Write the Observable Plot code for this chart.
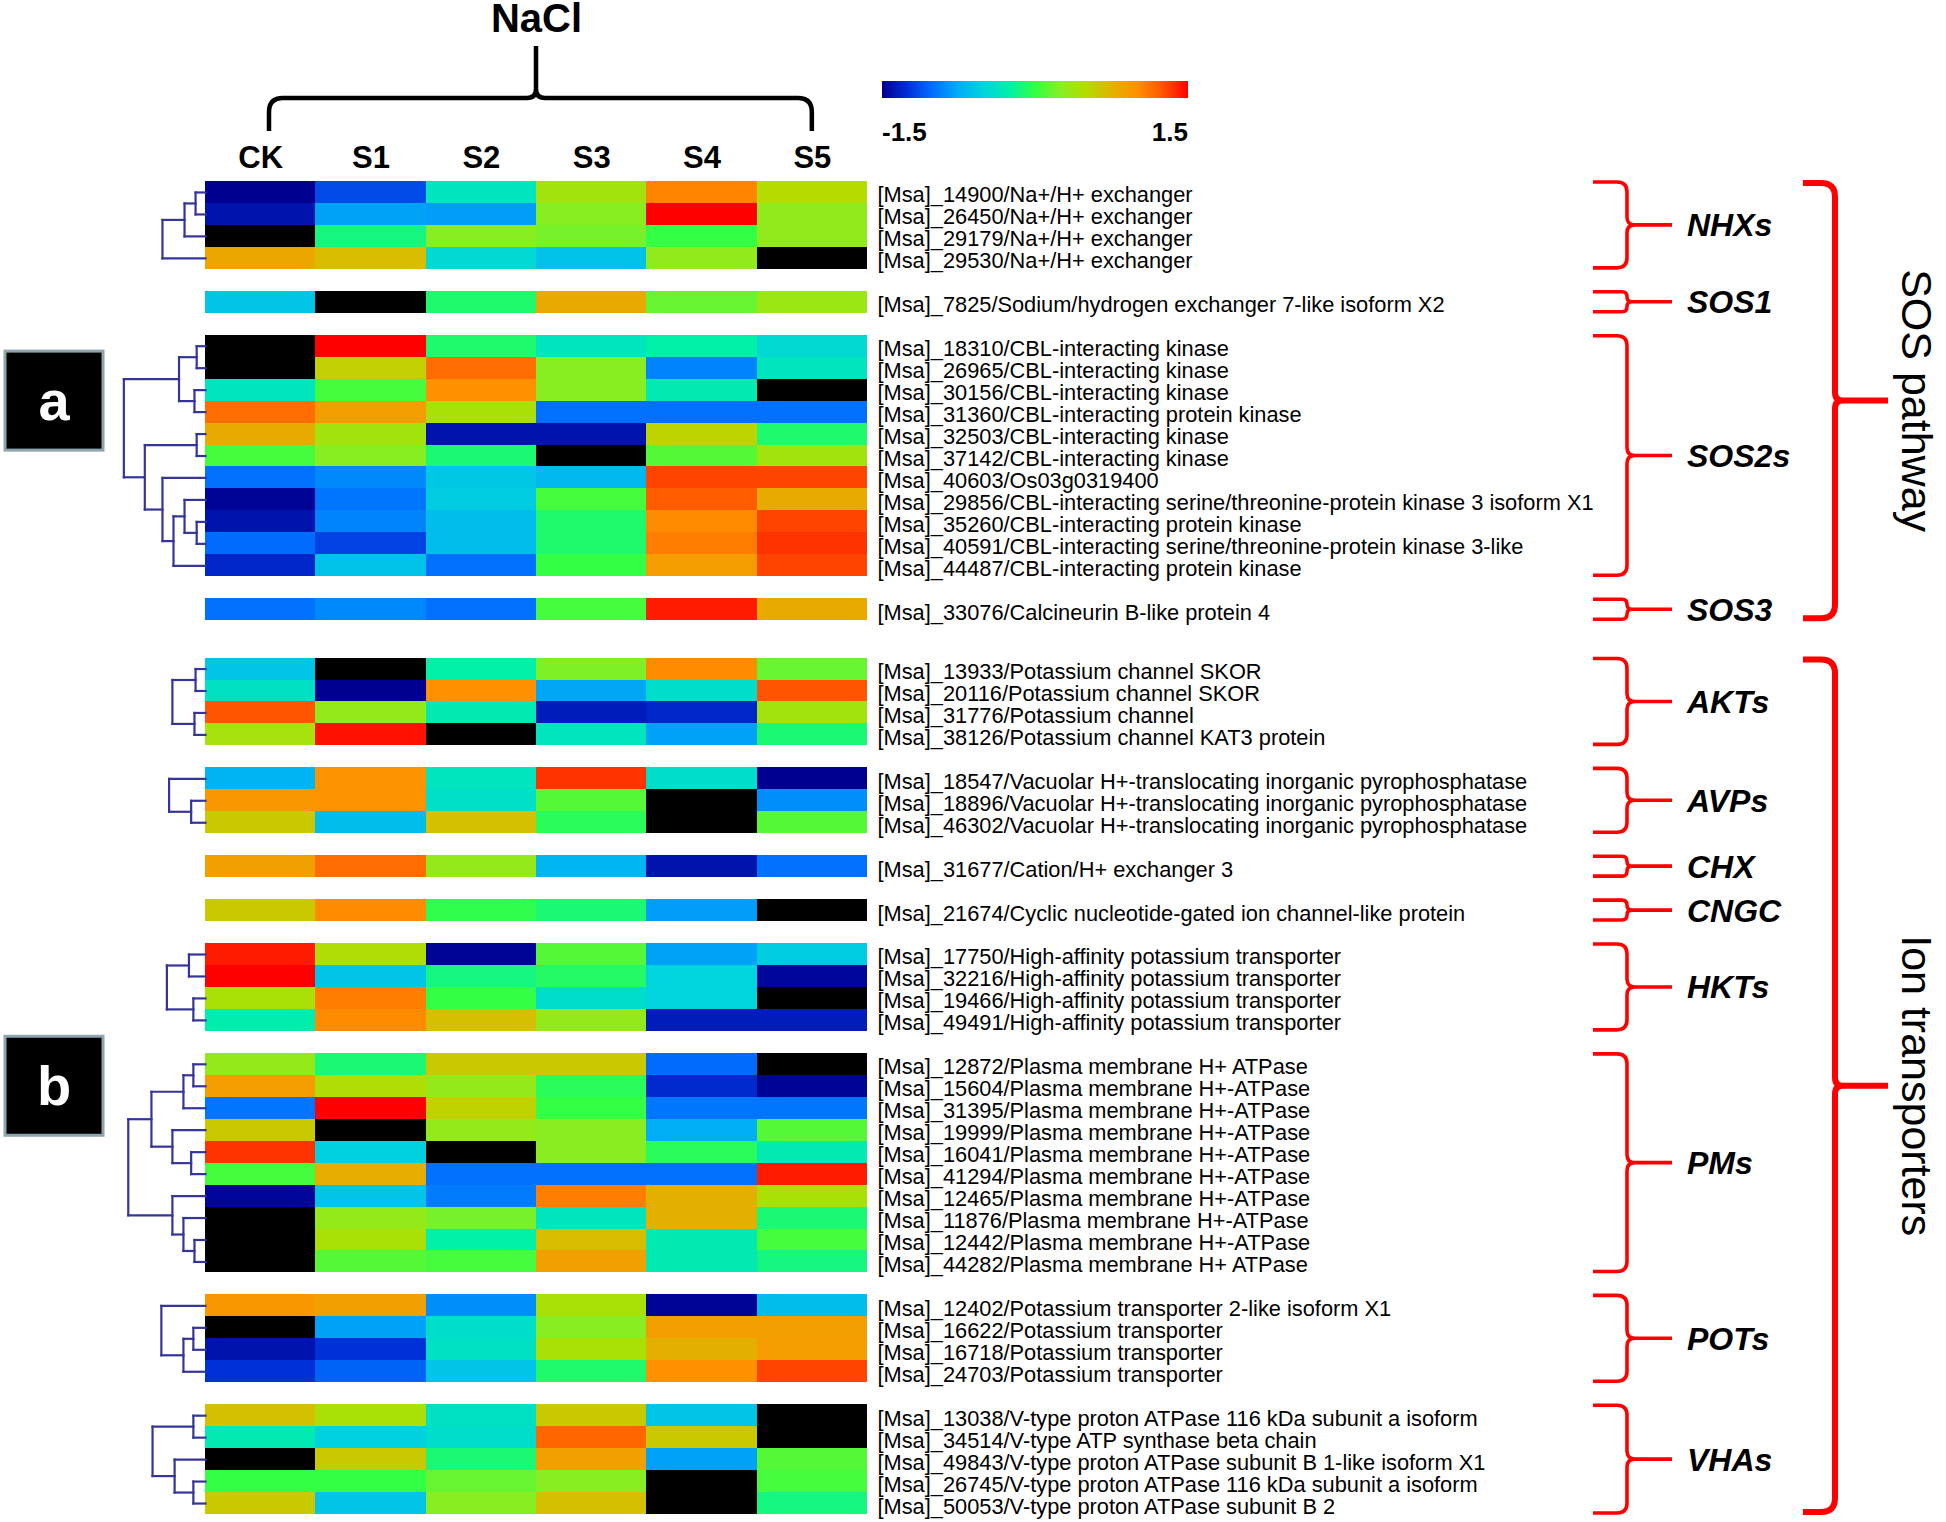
<!DOCTYPE html>
<html>
<head>
<meta charset="utf-8">
<script src="https://cdn.jsdelivr.net/npm/d3@7"></script>
<script src="https://cdn.jsdelivr.net/npm/@observablehq/plot@0.6"></script>
<style>
  html, body { margin: 0; padding: 0; background: #ffffff; }
  #chart { position: relative; width: 1946px; height: 1522px; }
</style>
</head>
<body>
<div id="chart"></div>
<script>
// ---------------- DATA ----------------
const N = null; // missing value (drawn black)
const columns = ["CK", "S1", "S2", "S3", "S4", "S5"];
const treatmentLabel = "NaCl";
const legendTicks = ["-1.5", "1.5"];
const colorDomain = [-1.5, 1.5];

const groupNames = ["NHXs", "SOS1", "SOS2s", "SOS3", "AKTs", "AVPs", "CHX", "CNGC", "HKTs", "PMs", "POTs", "VHAs"];
const sectionNames = ["SOS pathway", "Ion transporters"];
const sectionOfGroup = [0, 0, 0, 0, 1, 1, 1, 1, 1, 1, 1, 1];
const panelLetters = ["a", "b"];

const NHX_labels = [
  "[Msa]_14900/Na+/H+ exchanger",
  "[Msa]_26450/Na+/H+ exchanger",
  "[Msa]_29179/Na+/H+ exchanger",
  "[Msa]_29530/Na+/H+ exchanger"];
const NHX_values = [
  [-1.5, -1.15, -0.35, 0.4, 1.05, 0.5],
  [-1.4, -0.8, -0.82, 0.25, 1.5, 0.3],
  [N, -0.15, 0.25, 0.2, 0.0, 0.3],
  [0.85, 0.7, -0.45, -0.62, 0.3, N]];
const NHX_tree = [[[0, 1, 0.09], 2, 0.19], 3, 0.39];

const SOS1_labels = ["[Msa]_7825/Sodium/hydrogen exchanger 7-like isoform X2"];
const SOS1_values = [[-0.6, N, -0.1, 0.82, 0.15, 0.35]];

const SOS2_labels = [
  "[Msa]_18310/CBL-interacting kinase",
  "[Msa]_26965/CBL-interacting kinase",
  "[Msa]_30156/CBL-interacting kinase",
  "[Msa]_31360/CBL-interacting protein kinase",
  "[Msa]_32503/CBL-interacting kinase",
  "[Msa]_37142/CBL-interacting kinase",
  "[Msa]_40603/Os03g0319400",
  "[Msa]_29856/CBL-interacting serine/threonine-protein kinase 3 isoform X1",
  "[Msa]_35260/CBL-interacting protein kinase",
  "[Msa]_40591/CBL-interacting serine/threonine-protein kinase 3-like",
  "[Msa]_44487/CBL-interacting protein kinase"];
const SOS2_values = [
  [N, 1.5, -0.1, -0.35, -0.25, -0.45],
  [N, 0.58, 1.15, 0.25, -0.92, -0.35],
  [-0.35, 0.05, 1.0, 0.25, -0.3, N],
  [1.15, 0.9, 0.45, -1.0, -1.0, -1.0],
  [0.82, 0.4, -1.4, -1.4, 0.55, -0.1],
  [0.05, 0.25, -0.12, N, 0.1, 0.4],
  [-1.0, -0.9, -0.58, -0.68, 1.3, 1.3],
  [-1.48, -0.98, -0.55, 0.05, 1.22, 0.82],
  [-1.4, -0.92, -0.65, -0.1, 1.02, 1.3],
  [-1.02, -1.18, -0.65, -0.1, 1.08, 1.35],
  [-1.3, -0.62, -1.0, 0.0, 0.92, 1.3]];
const SOS2_tree = [
  [[0, 1, 0.08], [2, 3, 0.10], 0.24],
  [[4, 5, 0.08], [6, [[7, [8, 9, 0.08], 0.19], 10, 0.29], 0.39], 0.55],
  0.74];

const SOS3_labels = ["[Msa]_33076/Calcineurin B-like protein 4"];
const SOS3_values = [[-1.0, -0.9, -1.0, 0.05, 1.42, 0.82]];

const AKT_labels = [
  "[Msa]_13933/Potassium channel SKOR",
  "[Msa]_20116/Potassium channel SKOR",
  "[Msa]_31776/Potassium channel",
  "[Msa]_38126/Potassium channel KAT3 protein"];
const AKT_values = [
  [-0.6, N, -0.25, 0.22, 1.02, 0.15],
  [-0.38, -1.5, 1.0, -0.78, -0.42, 1.25],
  [1.25, 0.32, -0.3, -1.35, -1.3, 0.4],
  [0.42, 1.45, N, -0.35, -0.8, -0.12]];
const AKT_tree = [[0, 1, 0.09], [2, 3, 0.10], 0.30];

const AVP_labels = [
  "[Msa]_18547/Vacuolar H+-translocating inorganic pyrophosphatase",
  "[Msa]_18896/Vacuolar H+-translocating inorganic pyrophosphatase",
  "[Msa]_46302/Vacuolar H+-translocating inorganic pyrophosphatase"];
const AVP_values = [
  [-0.72, 0.98, -0.35, 1.35, -0.42, -1.5],
  [0.95, 0.98, -0.4, 0.1, N, -0.88],
  [0.62, -0.65, 0.68, -0.05, N, 0.1]];
const AVP_tree = [0, [1, 2, 0.13], 0.33];

const CHX_labels = ["[Msa]_31677/Cation/H+ exchanger 3"];
const CHX_values = [[0.88, 1.15, 0.32, -0.7, -1.4, -1.0]];

const CNGC_labels = ["[Msa]_21674/Cyclic nucleotide-gated ion channel-like protein"];
const CNGC_values = [[0.62, 1.02, -0.02, -0.12, -0.82, N]];

const HKT_labels = [
  "[Msa]_17750/High-affinity potassium transporter",
  "[Msa]_32216/High-affinity potassium transporter",
  "[Msa]_19466/High-affinity potassium transporter",
  "[Msa]_49491/High-affinity potassium transporter"];
const HKT_values = [
  [1.42, 0.48, -1.48, 0.1, -0.8, -0.55],
  [1.5, -0.6, -0.15, -0.08, -0.5, -1.47],
  [0.45, 1.08, 0.0, -0.42, -0.5, N],
  [-0.28, 1.02, 0.68, 0.32, -1.35, -1.35]];
const HKT_tree = [[0, 1, 0.15], [2, 3, 0.11], 0.35];

const PM_labels = [
  "[Msa]_12872/Plasma membrane H+ ATPase",
  "[Msa]_15604/Plasma membrane H+-ATPase",
  "[Msa]_31395/Plasma membrane H+-ATPase",
  "[Msa]_19999/Plasma membrane H+-ATPase",
  "[Msa]_16041/Plasma membrane H+-ATPase",
  "[Msa]_41294/Plasma membrane H+-ATPase",
  "[Msa]_12465/Plasma membrane H+-ATPase",
  "[Msa]_11876/Plasma membrane H+-ATPase",
  "[Msa]_12442/Plasma membrane H+-ATPase",
  "[Msa]_44282/Plasma membrane H+ ATPase"];
const PM_values = [
  [0.32, -0.12, 0.62, 0.62, -1.02, N],
  [0.92, 0.48, 0.32, -0.05, -1.28, -1.48],
  [-0.98, 1.5, 0.56, 0.0, -0.98, -0.98],
  [0.62, N, 0.32, 0.26, -0.75, 0.1],
  [1.35, -0.52, N, 0.26, -0.05, -0.3],
  [0.05, 0.8, -1.0, -1.0, -1.0, 1.42],
  [-1.47, -0.6, -0.95, 1.08, 0.78, 0.45],
  [N, 0.32, 0.2, -0.35, 0.78, -0.12],
  [N, 0.45, -0.25, 0.7, -0.3, 0.05],
  [N, 0.1, 0.05, 0.88, -0.3, -0.15]];
const PM_tree = [
  [[[0, 1, 0.11], 2, 0.20], [3, [4, 5, 0.13], 0.30], 0.49],
  [6, [7, [8, 9, 0.10], 0.20], 0.30],
  0.70];

const POT_labels = [
  "[Msa]_12402/Potassium transporter 2-like isoform X1",
  "[Msa]_16622/Potassium transporter",
  "[Msa]_16718/Potassium transporter",
  "[Msa]_24703/Potassium transporter"];
const POT_values = [
  [0.95, 0.88, -0.88, 0.45, -1.48, -0.65],
  [N, -0.8, -0.42, 0.25, 0.9, 0.9],
  [-1.4, -1.25, -0.38, 0.45, 0.78, 0.92],
  [-1.25, -1.05, -0.6, -0.1, 1.0, 1.3]];
const POT_tree = [0, [[1, 2, 0.11], 3, 0.20], 0.40];

const VHA_labels = [
  "[Msa]_13038/V-type proton ATPase 116 kDa subunit a isoform",
  "[Msa]_34514/V-type ATP synthase beta chain",
  "[Msa]_49843/V-type proton ATPase subunit B 1-like isoform X1",
  "[Msa]_26745/V-type proton ATPase 116 kDa subunit a isoform",
  "[Msa]_50053/V-type proton ATPase subunit B 2"];
const VHA_values = [
  [0.68, 0.45, -0.38, 0.62, -0.6, N],
  [-0.3, -0.52, -0.42, 1.18, 0.62, N],
  [N, 0.62, -0.12, 0.88, -0.8, 0.1],
  [0.0, 0.0, 0.15, 0.25, N, 0.05],
  [0.62, -0.6, 0.25, 0.68, N, -0.15]];
const VHA_tree = [[0, 1, 0.11], [2, [3, 4, 0.11], 0.28], 0.48];

const groupLabelLists = [NHX_labels, SOS1_labels, SOS2_labels, SOS3_labels, AKT_labels, AVP_labels, CHX_labels, CNGC_labels, HKT_labels, PM_labels, POT_labels, VHA_labels];
const groupValueLists = [NHX_values, SOS1_values, SOS2_values, SOS3_values, AKT_values, AVP_values, CHX_values, CNGC_values, HKT_values, PM_values, POT_values, VHA_values];
const groupTrees = [NHX_tree, null, SOS2_tree, null, AKT_tree, AVP_tree, null, null, HKT_tree, PM_tree, POT_tree, VHA_tree];

// ---------------- STYLE / LAYOUT ----------------
const W = 1946, H = 1522;
const FONT = "'Liberation Sans', Arial, Helvetica, sans-serif";
const jetStops = [-1.5, -1.25, -1, -0.75, -0.5, -0.25, 0, 0.25, 0.5, 0.75, 1, 1.25, 1.5];
const jetColors = ["#000090", "#0030D8", "#0070FF", "#00AEF6", "#00D4DC", "#00F0A8", "#33FF44", "#88EE22", "#B4DC00", "#E0B400", "#FF9000", "#FF5500", "#FF0000"];
const colorOpts = {type: "linear", domain: jetStops, range: jetColors, interpolate: "rgb", clamp: true};
const GAP_IN = 1, GAP_SECTION = 1.7;
const dendroColor = "#34349a";
const braceRed = "#ff0000";

// ---------------- BUILD TABLES ----------------
const rows = [], cells = [], segs = [], groups = [];
function walk(node, base) {
  if (typeof node === "number") return {y: base + node + 0.5, h: 0};
  const [a, b, h] = node;
  const A = walk(a, base), B = walk(b, base);
  segs.push({x1: -A.h, y1: A.y, x2: -h, y2: A.y});
  segs.push({x1: -B.h, y1: B.y, x2: -h, y2: B.y});
  segs.push({x1: -h, y1: A.y, x2: -h, y2: B.y});
  return {y: (A.y + B.y) / 2, h};
}
let pos = 0;
groupNames.forEach((name, g) => {
  if (g > 0) pos += sectionOfGroup[g] !== sectionOfGroup[g - 1] ? GAP_SECTION : GAP_IN;
  const start = pos;
  const labs = groupLabelLists[g], vals = groupValueLists[g];
  labs.forEach((lab, i) => {
    rows.push({label: lab, pos: start + i});
    vals[i].forEach((v, j) => cells.push({col: j, pos: start + i, value: v, column: columns[j]}));
  });
  if (groupTrees[g]) walk(groupTrees[g], start);
  groups.push({name, section: sectionOfGroup[g], y1: start, y2: start + labs.length});
  pos += labs.length;
});
const total = pos;

// ---------------- PLOT ----------------
const chart = Plot.plot({
  width: W, height: H,
  marginTop: 181, marginBottom: 8, marginLeft: 205, marginRight: W - 867,
  x: {domain: [0, columns.length], axis: null},
  y: {domain: [0, total], reverse: true, axis: null},
  color: colorOpts,
  style: {fontFamily: FONT, background: "#ffffff", color: "#000", overflow: "visible"},
  marks: [
    Plot.rect(cells.filter(d => d.value !== null), {
      x1: d => d.col, x2: d => d.col + 1, y1: d => d.pos, y2: d => d.pos + 1,
      fill: d => d.value, shapeRendering: "crispEdges"
    }),
    Plot.rect(cells.filter(d => d.value === null), {
      x1: d => d.col, x2: d => d.col + 1, y1: d => d.pos, y2: d => d.pos + 1,
      fill: "#000000", shapeRendering: "crispEdges"
    }),
    Plot.link(segs, {x1: "x1", y1: "y1", x2: "x2", y2: "y2", stroke: dendroColor, strokeWidth: 2.2, strokeLinecap: "square"}),
    Plot.text(rows, {x: columns.length, y: d => d.pos + 0.5, text: "label", textAnchor: "start", dx: 10, dy: 3, fontSize: 21.8, fill: "#000"}),
    Plot.text(columns, {x: (d, i) => i + 0.5, y: 0, dy: -23, text: d => d, fontSize: 31, fontWeight: "bold", fill: "#000"}),
    Plot.text([treatmentLabel], {x: columns.length / 2, y: 0, dy: -162, text: d => d, fontSize: 40, fontWeight: "bold", fill: "#000"})
  ]
});

document.getElementById("chart").appendChild(chart);

// ---------------- ANNOTATIONS (positioned through the plot's scales) ----------------
const X = chart.scale("x").apply, Y = chart.scale("y").apply, C = chart.scale("color").apply;
const svg = d3.select(chart);
const deco = svg.append("g").attr("fill", "none").attr("font-family", FONT).attr("text-anchor", "start");

// NaCl bracket over the columns
(function () {
  const xL = X(0.58), xR = X(columns.length - 0.5), xm = X(columns.length / 2);
  const top = Y(0);
  const yEnd = top - 50, yBar = top - 83, yTip = top - 135, r = 14;
  const p = `M${xL},${yEnd} L${xL},${yBar + r} Q${xL},${yBar} ${xL + r},${yBar} L${xm - 9},${yBar} Q${xm},${yBar} ${xm},${yBar - 9} L${xm},${yTip}` +
            ` M${xm},${yBar - 9} Q${xm},${yBar} ${xm + 9},${yBar} L${xR - r},${yBar} Q${xR},${yBar} ${xR},${yBar + r} L${xR},${yEnd}`;
  deco.append("path").attr("d", p).attr("stroke", "#000").attr("stroke-width", 4.5).attr("stroke-linejoin", "round");
})();

function brace(xl, xs, xe, y1, y2, color, width, rmax) {
  const ym = (y1 + y2) / 2;
  const r = Math.min(rmax, (y2 - y1) / 4);
  const c = Math.min(8, r);
  const p = `M${xl},${y1} L${xs - r},${y1} Q${xs},${y1} ${xs},${y1 + r} L${xs},${ym - c} Q${xs},${ym} ${xs + c},${ym}` +
            ` M${xs + c},${ym} Q${xs},${ym} ${xs},${ym + c} L${xs},${y2 - r} Q${xs},${y2} ${xs - r},${y2} L${xl},${y2}` +
            ` M${xs + c - 1},${ym} L${xe},${ym}`;
  deco.append("path").attr("d", p).attr("stroke", color).attr("stroke-width", width)
    .attr("stroke-linejoin", "round").attr("stroke-linecap", "butt");
  return ym;
}

// group braces + labels
groups.forEach(g => {
  const y1 = Y(g.y1) + 1, y2 = Y(g.y2) - 1;
  const ym = brace(1593, 1627, 1672, y1, y2, braceRed, 3.6, 10);
  deco.append("text").attr("x", 1687).attr("y", ym).attr("dy", "0.36em").attr("text-anchor", "start")
    .attr("fill", "#000").attr("font-size", 32).attr("font-weight", "bold").attr("font-style", "italic")
    .text(g.name);
});

// section braces + rotated labels + panel letters
sectionNames.forEach((s, k) => {
  const gs = groups.filter(g => g.section === k);
  const y1 = Y(gs[0].y1) + 2, y2 = Y(gs[gs.length - 1].y2) - 2;
  const ym = brace(1803, 1835, 1888, y1, y2, braceRed, 6, 14);
  deco.append("text").attr("transform", `translate(1917,${ym}) rotate(90)`)
    .attr("text-anchor", "middle").attr("dy", "0.36em")
    .attr("fill", "#000").attr("font-size", 43)
    .text(s);
  const cy = ym;
  deco.append("rect").attr("x", 5).attr("y", cy - 49.5).attr("width", 98).attr("height", 99)
    .attr("fill", "#000").attr("stroke", "#8ea4ae").attr("stroke-width", 3);
  deco.append("text").attr("x", 54).attr("y", cy).attr("dy", "0.35em")
    .attr("text-anchor", "middle").attr("fill", "#fff").attr("font-size", 56).attr("font-weight", "bold")
    .text(panelLetters[k]);
});

// colour bar legend drawn from the plot's own colour scale
(function () {
  const barX = 882, barY = 81, barW = 306, barH = 17;
  const defs = svg.append("defs");
  const grad = defs.append("linearGradient").attr("id", "jet-ramp")
    .attr("x1", "0%").attr("x2", "100%").attr("y1", "0%").attr("y2", "0%");
  const lo = colorDomain[0], hi = colorDomain[1];
  jetStops.forEach(v => {
    grad.append("stop").attr("offset", ((v - lo) / (hi - lo) * 100) + "%").attr("stop-color", C(v));
  });
  deco.append("rect").attr("x", barX).attr("y", barY).attr("width", barW).attr("height", barH)
    .attr("fill", "url(#jet-ramp)");
  deco.append("text").attr("x", barX).attr("y", barY + 60).attr("text-anchor", "start")
    .attr("fill", "#000").attr("font-size", 26).attr("font-weight", "bold").text(legendTicks[0]);
  deco.append("text").attr("x", barX + barW).attr("y", barY + 60).attr("text-anchor", "end")
    .attr("fill", "#000").attr("font-size", 26).attr("font-weight", "bold").text(legendTicks[1]);
})();
</script>
</body>
</html>
